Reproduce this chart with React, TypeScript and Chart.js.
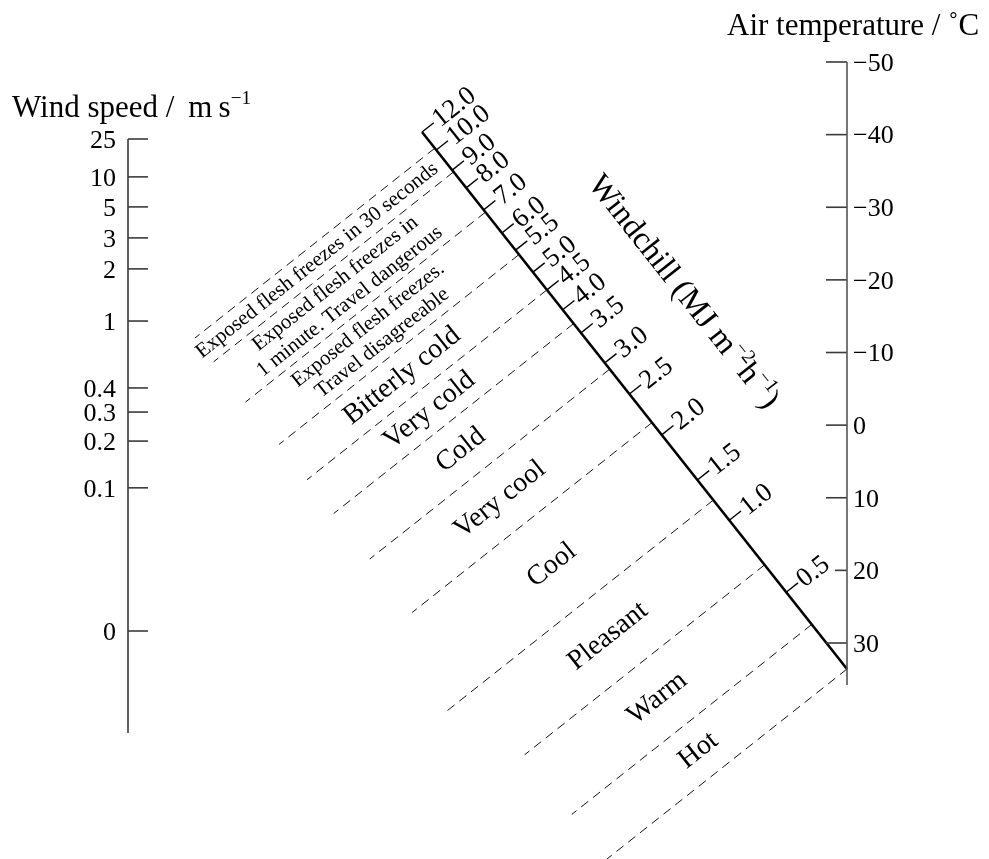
import React, { useEffect, useRef } from "react";
import { Chart, registerables } from "chart.js";
Chart.register(...registerables);

const WIDTH = 989;
const HEIGHT = 859;

// ---- Data ----
// Wind speed scale (m/s) and its graduation (0 = calm, 1 = 25 m/s)
const windSpeedTicks = [25, 10, 5, 3, 2, 1, 0.4, 0.3, 0.2, 0.1, 0];
const windSpeedGraduation = [1, 0.923, 0.862, 0.799, 0.736, 0.63, 0.494, 0.445, 0.386, 0.291, 0];
// Air temperature scale (°C), linear
const airTempTicks = [-50, -40, -30, -20, -10, 0, 10, 20, 30];
// Windchill scale (MJ m^-2 h^-1) and graduation along the diagonal (0 = lower end)
const windchillTicks = [12.0, 10.0, 9.0, 8.0, 7.0, 6.0, 5.5, 5.0, 4.5, 4.0, 3.5, 3.0, 2.5, 2.0, 1.5, 1.0, 0.5];
const windchillGraduation = [1, 0.9665, 0.929, 0.896, 0.855, 0.812, 0.78, 0.739, 0.706, 0.669, 0.626, 0.57, 0.512, 0.436, 0.352, 0.277, 0.143];
// Comfort category boundaries (windchill values) and labels
const categoryBounds = [10.2, 8.9, 6.9, 5.4, 4.5, 3.7, 2.9, 2.15, 1.25, 0.69, 0.29, 0];
const categoryLabels: string[][] = [
  ["Exposed flesh freezes in 30 seconds"],
  ["Exposed flesh freezes in", "1 minute. Travel dangerous"],
  ["Exposed flesh freezes.", "Travel disagreeable"],
  ["Bitterly cold"],
  ["Very cold"],
  ["Cold"],
  ["Very cool"],
  ["Cool"],
  ["Pleasant"],
  ["Warm"],
  ["Hot"],
];

// ---- Layout ----
const LEFT = { x: 128, yZero: 631, yFull: 139, yEnd: 733, tick: 20 };
const RIGHT = { x: 847, tMin: -50, yMin: 62, tMax: 30, yMax: 643, yEnd: 685, tick: 21, shortTick: 12 };
const DIAG = { bx: 847, by: 669, ax: 422, ay: 132 };
const FONT = '"Liberation Serif", "Times New Roman", serif';

function interp(v: number, vals: number[], grads: number[]) {
  const pairs = vals.map((x, i) => [x, grads[i]]).sort((a, b) => a[0] - b[0]);
  if (v <= pairs[0][0]) return pairs[0][1];
  for (let i = 1; i < pairs.length; i++) {
    if (v <= pairs[i][0]) {
      const [x0, g0] = pairs[i - 1];
      const [x1, g1] = pairs[i];
      return g0 + ((g1 - g0) * (v - x0)) / (x1 - x0);
    }
  }
  return pairs[pairs.length - 1][1];
}

const windY = (v: number) =>
  LEFT.yZero - interp(v, windSpeedTicks, windSpeedGraduation) * (LEFT.yZero - LEFT.yFull);
const tempY = (t: number) =>
  RIGHT.yMin + ((t - RIGHT.tMin) * (RIGHT.yMax - RIGHT.yMin)) / (RIGHT.tMax - RIGHT.tMin);
const chillFrac = (k: number) => interp(k, [...windchillTicks, 0], [...windchillGraduation, 0]);
const diagPoint = (f: number) => ({
  x: DIAG.bx + f * (DIAG.ax - DIAG.bx),
  y: DIAG.by + f * (DIAG.ay - DIAG.by),
});
const chillPoint = (k: number) => diagPoint(chillFrac(k));

const dLen = Math.hypot(DIAG.ax - DIAG.bx, DIAG.ay - DIAG.by);
const dir = { x: (DIAG.ax - DIAG.bx) / dLen, y: (DIAG.ay - DIAG.by) / dLen }; // toward upper end
const nrm = { x: dir.y, y: -dir.x }; // down-left, perpendicular
const up = { x: -nrm.x, y: -nrm.y }; // up-right, perpendicular

type Seg = { a: { x: number; y: number }; b: { x: number; y: number }; color: string; width: number; dash?: number[] };

function buildSegments(): Seg[] {
  const segs: Seg[] = [];
  const axisColor = "#3a3a3a";
  // left axis
  segs.push({ a: { x: LEFT.x, y: windY(25) }, b: { x: LEFT.x, y: LEFT.yEnd }, color: axisColor, width: 1.6 });
  windSpeedTicks.forEach((v) => {
    const y = windY(v);
    segs.push({ a: { x: LEFT.x, y }, b: { x: LEFT.x + LEFT.tick, y }, color: axisColor, width: 1.6 });
  });
  // right axis
  segs.push({ a: { x: RIGHT.x, y: tempY(RIGHT.tMin) }, b: { x: RIGHT.x, y: RIGHT.yEnd }, color: "#555", width: 1.6 });
  airTempTicks.forEach((t) => {
    const y = tempY(t);
    const len = t === 20 ? RIGHT.shortTick : RIGHT.tick;
    segs.push({ a: { x: RIGHT.x - len, y }, b: { x: RIGHT.x, y }, color: axisColor, width: 1.6 });
  });
  // category dashed lines
  categoryBounds.forEach((k, i) => {
    const p = chillPoint(k);
    const len = i === 8 ? 343 : 306;
    segs.push({ a: p, b: { x: p.x + nrm.x * len, y: p.y + nrm.y * len }, color: "#111", width: 1, dash: [9, 6] });
  });
  // diagonal
  segs.push({ a: diagPoint(0), b: diagPoint(1), color: "#000", width: 2.6 });
  windchillTicks.forEach((k) => {
    const p = chillPoint(k);
    segs.push({ a: p, b: { x: p.x + up.x * 15, y: p.y + up.y * 15 }, color: "#000", width: 1.4 });
  });
  return segs;
}

type Part = { t: string; sup?: boolean };

function drawRich(ctx: CanvasRenderingContext2D, parts: Part[], size: number, align: "left" | "center") {
  const supSize = size * 0.62;
  const widths = parts.map((p) => {
    ctx.font = `${p.sup ? supSize : size}px ${FONT}`;
    return ctx.measureText(p.t).width;
  });
  const total = widths.reduce((s, w) => s + w, 0);
  let x = align === "center" ? -total / 2 : 0;
  ctx.textAlign = "left";
  ctx.textBaseline = "alphabetic";
  parts.forEach((p, i) => {
    ctx.font = `${p.sup ? supSize : size}px ${FONT}`;
    ctx.fillText(p.t, x, p.sup ? -size * 0.42 : 0);
    x += widths[i];
  });
}

const textPlugin = {
  id: "nomogramText",
  afterDatasetsDraw(chart: any) {
    const ctx: CanvasRenderingContext2D = chart.ctx;
    const sx = (v: number) => chart.scales.x.getPixelForValue(v);
    const sy = (v: number) => chart.scales.y.getPixelForValue(v);
    ctx.save();
    ctx.fillStyle = "#000";

    // Titles
    ctx.save();
    ctx.translate(sx(12), sy(117));
    drawRich(ctx, [{ t: "Wind speed / \u2009m\u2009s" }, { t: "\u22121", sup: true }], 31, "left");
    ctx.restore();
    ctx.save();
    ctx.translate(sx(727), sy(35));
    drawRich(ctx, [{ t: "Air temperature / \u02DAC" }], 31, "left");
    ctx.restore();

    // Left tick labels
    ctx.font = `26px ${FONT}`;
    ctx.textAlign = "right";
    ctx.textBaseline = "middle";
    windSpeedTicks.forEach((v) => {
      ctx.fillText(String(v), sx(LEFT.x - 12), sy(windY(v) + 2));
    });
    // Right tick labels
    ctx.textAlign = "left";
    airTempTicks.forEach((t) => {
      const s = t < 0 ? "\u2212" + Math.abs(t) : String(t);
      ctx.fillText(s, sx(RIGHT.x + 6), sy(tempY(t) + 2));
    });

    const angUp = Math.atan2(up.y, up.x);
    // Windchill tick labels
    windchillTicks.forEach((k) => {
      const p = chillPoint(k);
      ctx.save();
      ctx.translate(sx(p.x + up.x * 17), sy(p.y + up.y * 17));
      ctx.rotate(angUp);
      ctx.font = `27px ${FONT}`;
      ctx.textAlign = "left";
      ctx.textBaseline = "middle";
      ctx.fillText(k.toFixed(1), 0, 1);
      ctx.restore();
    });

    // Windchill axis title
    {
      const p = diagPoint(0.58);
      const off = 97;
      ctx.save();
      ctx.translate(sx(p.x + up.x * off), sy(p.y + up.y * off));
      ctx.rotate(Math.atan2(-dir.y, -dir.x));
      drawRich(
        ctx,
        [{ t: "Windchill (MJ m" }, { t: "\u22122", sup: true }, { t: "h" }, { t: "\u22121", sup: true }, { t: ")" }],
        32,
        "center"
      );
      ctx.restore();
    }

    // Category labels
    categoryLabels.forEach((lines, i) => {
      const f = (chillFrac(categoryBounds[i]) + chillFrac(categoryBounds[i + 1])) / 2;
      const p = diagPoint(f);
      const dist = i < 3 ? 162 : 167;
      const size = i < 3 ? 21 : 28;
      const lh = 23;
      lines.forEach((line, j) => {
        const shift = (lines.length - 1) / 2 - j; // positive => toward upper end
        const cx = p.x + nrm.x * dist + dir.x * shift * lh;
        const cy = p.y + nrm.y * dist + dir.y * shift * lh;
        ctx.save();
        ctx.translate(sx(cx), sy(cy));
        ctx.rotate(angUp);
        ctx.font = `${size}px ${FONT}`;
        ctx.textAlign = "center";
        ctx.textBaseline = "middle";
        ctx.fillText(line, 0, 0);
        ctx.restore();
      });
    });
    ctx.restore();
  },
};

const whiteBackground = {
  id: "whiteBg",
  beforeDraw(chart: any) {
    const ctx = chart.ctx;
    ctx.save();
    ctx.fillStyle = "#fff";
    ctx.fillRect(0, 0, chart.width, chart.height);
    ctx.restore();
  },
};

export default function App() {
  const ref = useRef<HTMLCanvasElement>(null);
  useEffect(() => {
    const canvas = ref.current;
    if (!canvas) return;
    const segs = buildSegments();
    const datasets = segs.map((s) => ({
      data: [s.a, s.b],
      showLine: true,
      borderColor: s.color,
      backgroundColor: s.color,
      borderWidth: s.width,
      borderDash: s.dash || [],
      pointRadius: 0,
      pointHoverRadius: 0,
      fill: false,
      clip: false as any,
      tension: 0,
      borderCapStyle: "butt" as const,
    }));
    const chart = new Chart(canvas, {
      type: "scatter",
      data: { datasets },
      options: {
        responsive: false,
        maintainAspectRatio: false,
        animation: false,
        devicePixelRatio: 1,
        events: [],
        layout: { padding: 0 },
        scales: {
          x: { type: "linear", min: 0, max: WIDTH, display: false },
          y: { type: "linear", min: 0, max: HEIGHT, reverse: true, display: false },
        },
        plugins: { legend: { display: false }, tooltip: { enabled: false } },
      },
      plugins: [whiteBackground, textPlugin],
    });
    return () => chart.destroy();
  }, []);
  return (
    <div style={{ position: "absolute", left: 0, top: 0, width: WIDTH, height: HEIGHT, background: "#fff" }}>
      <canvas ref={ref} width={WIDTH} height={HEIGHT} style={{ display: "block", width: WIDTH, height: HEIGHT }} />
    </div>
  );
}
